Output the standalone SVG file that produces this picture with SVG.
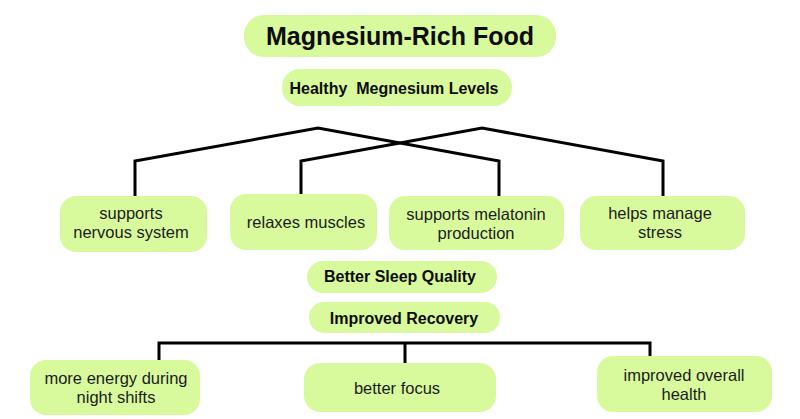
<svg xmlns="http://www.w3.org/2000/svg" width="800" height="419" viewBox="0 0 800 419">
<style>
.box{fill:#d8fa9c}
.t{font-family:"Liberation Sans",Arial,sans-serif;fill:#1c1c1c;text-anchor:middle;dominant-baseline:central}
.b{font-weight:bold;fill:#0d0d0d}
.n{font-size:16.5px}
.conn{fill:none;stroke:#000;stroke-width:3;stroke-linejoin:miter}
</style>
<rect width="800" height="419" fill="#fff"/>
<g id="connectors">
<path class="conn" d="M135,196 V161 L318,128 L499,161 V196"/>
<path class="conn" d="M301,194 V161 L482,128 L663,161 V196"/>
<path class="conn" d="M159,360 V343 H650 V356 M405,343 V363"/>
</g>
<g id="n-title">
<rect class="box" x="244" y="15" width="312" height="42" rx="20"/>
<text class="t b" x="400" y="36" font-size="25">Magnesium-Rich Food</text>
</g>
<g id="n-levels">
<rect class="box" x="282" y="69" width="230" height="37" rx="18"/>
<text class="t b" x="394" y="88" font-size="16" xml:space="preserve">Healthy  Megnesium Levels</text>
</g>
<g id="n-nervous">
<rect class="box" x="60" y="196" width="147" height="56" rx="16"/>
<text class="t n" x="131" y="213">supports</text>
<text class="t n" x="131" y="232">nervous system</text>
</g>
<g id="n-muscles">
<rect class="box" x="230" y="194" width="147" height="56" rx="16"/>
<text class="t n" x="306" y="222">relaxes muscles</text>
</g>
<g id="n-melatonin">
<rect class="box" x="389" y="196" width="175" height="54" rx="16"/>
<text class="t n" x="476" y="214">supports melatonin</text>
<text class="t n" x="476" y="233">production</text>
</g>
<g id="n-stress">
<rect class="box" x="580" y="196" width="165" height="54" rx="16"/>
<text class="t n" x="660" y="213">helps manage</text>
<text class="t n" x="660" y="232">stress</text>
</g>
<g id="n-sleep">
<rect class="box" x="307" y="261" width="190" height="32" rx="16"/>
<text class="t b" x="400" y="276" font-size="16">Better Sleep Quality</text>
</g>
<g id="n-recovery">
<rect class="box" x="309" y="302" width="191" height="31" rx="15"/>
<text class="t b" x="404" y="318" font-size="16">Improved Recovery</text>
</g>
<g id="n-energy">
<rect class="box" x="30" y="360" width="170" height="55" rx="16"/>
<text class="t n" x="116" y="378">more energy during</text>
<text class="t n" x="116" y="397">night shifts</text>
</g>
<g id="n-focus">
<rect class="box" x="304" y="363" width="192" height="49" rx="16"/>
<text class="t n" x="397" y="388">better focus</text>
</g>
<g id="n-health">
<rect class="box" x="597" y="356" width="175" height="56" rx="16"/>
<text class="t n" x="684" y="375">improved overall</text>
<text class="t n" x="684" y="394">health</text>
</g>
</svg>
